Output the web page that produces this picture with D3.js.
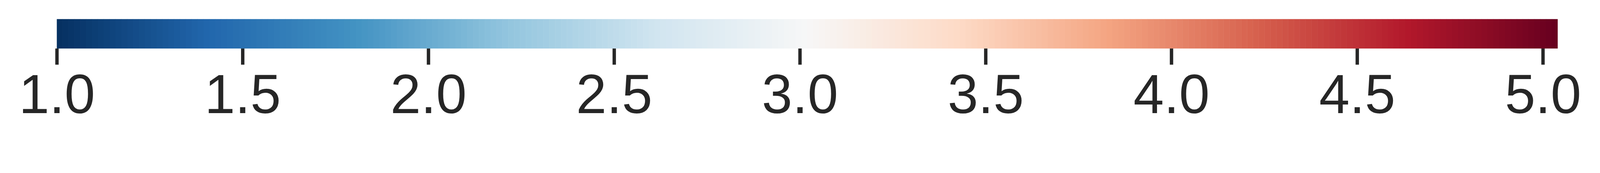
<!DOCTYPE html>
<html>
<head>
<meta charset="utf-8">
<script src="https://cdn.jsdelivr.net/npm/d3@7"></script>
<style>
  html, body { margin: 0; padding: 0; background: #fff; overflow: hidden; }
  svg { display: block; width: 100vw; height: 100vh; }
  .tick text { font-family: "Liberation Sans", Arial, sans-serif; fill: #262626; }
</style>
</head>
<body>
<svg id="bar" viewBox="0 0 4957 442" preserveAspectRatio="xMinYMin meet"></svg>
<script>
// colour bar range and tick labels
const DOMAIN = [1.0, 5.04];
const TICKS = [1.0, 1.5, 2.0, 2.5, 3.0, 3.5, 4.0, 4.5, 5.0];
// RdBu_r control colours, low → high
const CMAP = ["#053061", "#2166ac", "#4393c3", "#92c5de", "#d1e5f0", "#f7f7f7",
              "#fddbc7", "#f4a582", "#d6604d", "#b2182b", "#67001f"];
const N_LEVELS = 256;

const barLeft = 176, barRight = 4826, barTop = 59, barBottom = 150;

const svg = d3.select("#bar");

const x = d3.scaleLinear().domain(DOMAIN).range([barLeft, barRight]);
const color = d3.scaleLinear()
  .domain(d3.range(CMAP.length).map(i => DOMAIN[0] + (DOMAIN[1] - DOMAIN[0]) * i / (CMAP.length - 1)))
  .range(CMAP)
  .interpolate(d3.interpolateRgb);

// the bar itself: 256 flat bands like matplotlib's colorbar mesh
const step = (DOMAIN[1] - DOMAIN[0]) / N_LEVELS;
const levels = d3.range(N_LEVELS).map(i => DOMAIN[0] + i * step);
svg.append("g").selectAll("rect")
  .data(levels).join("rect")
  .attr("x", d => x(d))
  .attr("y", barTop)
  .attr("width", (d, i) => x(d + step) - x(d) + (i < N_LEVELS - 1 ? 0.6 : 0))
  .attr("height", barBottom - barTop)
  .attr("fill", d => color(d + step / 2));

// ticks below the bar
const axis = d3.axisBottom(x)
  .tickValues(TICKS)
  .tickFormat(d3.format(".1f"))
  .tickSize(50)
  .tickPadding(0);

const ax = svg.append("g")
  .attr("transform", `translate(0,${barBottom})`)
  .call(axis);
ax.select(".domain").remove();
ax.selectAll(".tick line").attr("stroke", "#262626").attr("stroke-width", 10.5);
ax.selectAll(".tick text")
  .attr("y", 200)
  .attr("dy", null)
  .attr("font-size", 170);
</script>
</body>
</html>
